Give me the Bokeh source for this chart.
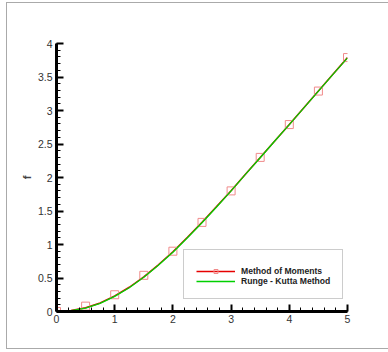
from bokeh.plotting import figure
from bokeh.models import (Range1d, FixedTicker, Legend, LegendItem)
from bokeh.embed import file_html
from bokeh.resources import INLINE

# data
x_line = [0, 0.25, 0.5, 0.75, 1.0, 1.25, 1.5, 1.75, 2.0, 2.25, 2.5, 2.75, 3.0,
          3.25, 3.5, 3.75, 4.0, 4.25, 4.5, 4.75, 5.0]
f_moments = [0, 0.016, 0.057, 0.128, 0.232, 0.362, 0.517, 0.697, 0.892, 1.107, 1.332,
             1.566, 1.802, 2.051, 2.298, 2.546, 2.792, 3.041, 3.29, 3.54, 3.79]
f_rk = [0, 0.012, 0.05, 0.12, 0.225, 0.355, 0.51, 0.69, 0.885, 1.10, 1.325,
        1.56, 1.80, 2.05, 2.295, 2.545, 2.79, 3.04, 3.29, 3.54, 3.785]
x_marks = [0, 0.5, 1.0, 1.5, 2.0, 2.5, 3.0, 3.5, 4.0, 4.5, 5.0]
f_marks = [0, 0.08, 0.25, 0.54, 0.90, 1.33, 1.80, 2.30, 2.79, 3.29, 3.79]

x_ticks = [0, 1, 2, 3, 4, 5]
x_tick_labels = ["0", "1", "2", "3", "4", "5"]
x_minor = [i * 0.2 for i in range(26)]
y_ticks = [0, 0.5, 1, 1.5, 2, 2.5, 3, 3.5, 4]
y_tick_labels = ["0", "0.5", "1", "1.5", "2", "2.5", "3", "3.5", "4"]
y_minor = [i * 0.1 for i in range(41)]

p = figure(width=388, height=352, output_backend="svg", toolbar_location=None,
           x_range=Range1d(0, 5), y_range=Range1d(0, 4),
           min_border_left=56, min_border_right=41, min_border_top=43, min_border_bottom=41)
p.outline_line_color = None
p.grid.visible = False
p.background_fill_color = "white"
p.border_fill_alpha = 0
p.styles = {
    "background-color": "white",
    "background-image": "linear-gradient(#aaaaaa,#aaaaaa), linear-gradient(#aaaaaa,#aaaaaa), linear-gradient(#aaaaaa,#aaaaaa)",
    "background-size": "1px 347px, 390px 1px, 390px 1px",
    "background-position": "6px 2px, 6px 2px, 6px 348px",
    "background-repeat": "no-repeat",
}

for ax in (p.xaxis[0], p.yaxis[0]):
    ax.axis_line_width = 3
    ax.axis_line_color = "black"
    ax.major_tick_in = 7
    ax.major_tick_out = 0
    ax.minor_tick_in = 4
    ax.minor_tick_out = 0
    ax.major_tick_line_width = 2
    ax.minor_tick_line_width = 1
    ax.major_tick_line_color = "black"
    ax.minor_tick_line_color = "black"
    ax.major_label_text_font = "Liberation Sans"
    ax.major_label_text_font_size = "10.5px"
    ax.major_label_text_color = "#333333"

p.xaxis[0].ticker = FixedTicker(ticks=x_ticks, minor_ticks=x_minor)
p.xaxis[0].major_label_overrides = {t: l for t, l in zip(x_ticks, x_tick_labels)}
p.xaxis[0].major_label_standoff = 3
p.yaxis[0].ticker = FixedTicker(ticks=y_ticks, minor_ticks=y_minor)
p.yaxis[0].major_label_overrides = {t: l for t, l in zip(y_ticks, y_tick_labels)}
p.yaxis[0].major_label_standoff = 4
p.yaxis[0].axis_label = "f"
p.yaxis[0].axis_label_text_font = "Liberation Sans"
p.yaxis[0].axis_label_text_font_style = "bold"
p.yaxis[0].axis_label_text_font_size = "11px"
p.yaxis[0].axis_label_standoff = 2

r_red = p.line(x_line, f_moments, line_color="#e60000", line_width=1.5)
r_mk = p.scatter(x_marks, f_marks, marker="square", size=8, fill_color=None,
                 line_color="#f08a8a", line_width=1)
r_green = p.line(x_line, f_rk, line_color="#00d000", line_width=1.3)

legend = Legend(items=[LegendItem(label="Method of Moments", renderers=[r_red, r_mk]),
                       LegendItem(label="Runge - Kutta Method", renderers=[r_green])],
                location=(127, 12), orientation="vertical")
legend.title = " "
legend.title_text_font_size = "3px"
legend.title_standoff = 0
legend.label_text_font = "Liberation Sans"
legend.label_text_font_style = "bold"
legend.label_text_font_size = "8.6px"
legend.label_text_color = "#222222"
legend.glyph_width = 39
legend.glyph_height = 10
legend.label_height = 10
legend.label_standoff = 6
legend.spacing = 0
legend.padding = 12
legend.margin = 0
legend.border_line_color = "#999999"
legend.border_line_width = 1
legend.background_fill_color = "white"
legend.background_fill_alpha = 1
p.add_layout(legend, "center")

open("out.html", "w").write(file_html(p, INLINE))
